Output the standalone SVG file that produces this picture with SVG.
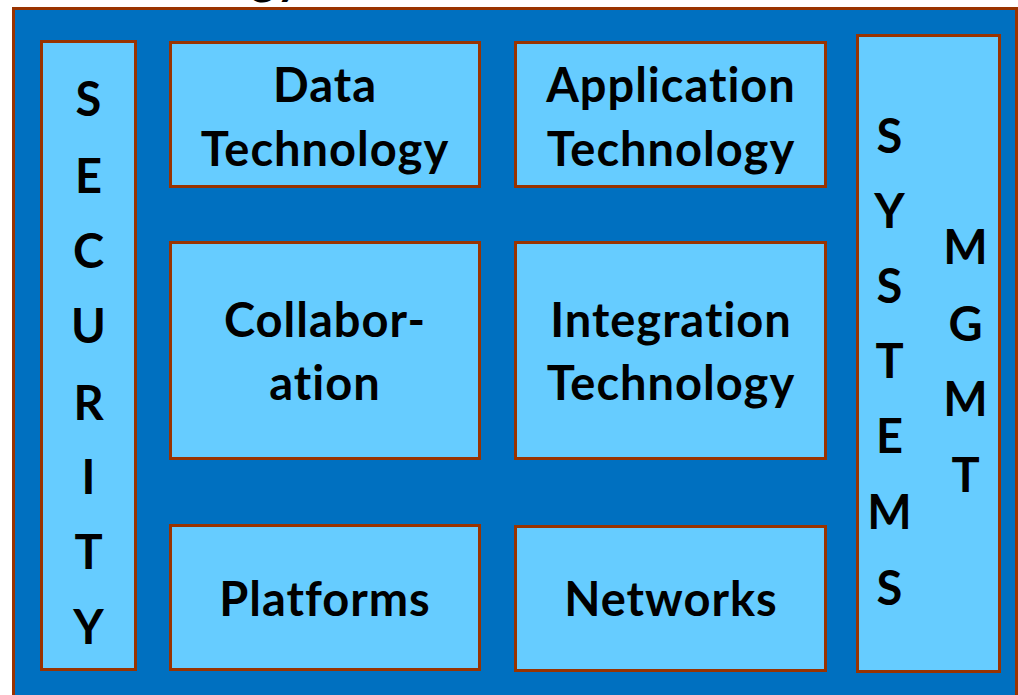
<svg xmlns="http://www.w3.org/2000/svg" width="1018" height="695" viewBox="0 0 1018 695">
<style>
.bg{fill:#0070C0;stroke:#993300;stroke-width:3}
.box{fill:#66CCFF;stroke:#993300;stroke-width:3}
.t{font-family:Lato,"Open Sans","Liberation Sans",sans-serif;font-weight:bold;font-size:47px;letter-spacing:1px;font-variant-ligatures:none;fill:#000;text-anchor:middle}
</style>
<rect width="1018" height="695" fill="#fff"/>
<text class="t" x="302" y="-6" style="text-anchor:end">Technology</text>
<rect class="bg" x="13.5" y="8.5" width="1003" height="700"/>
<g id="security">
<rect class="box" x="41.5" y="41.5" width="94" height="628"/>
<text class="t"><tspan x="89" y="116">S</tspan><tspan x="89" y="193">E</tspan><tspan x="89" y="268">C</tspan><tspan x="89" y="343">U</tspan><tspan x="89" y="420">R</tspan><tspan x="89" y="494">I</tspan><tspan x="89" y="569">T</tspan><tspan x="89" y="644">Y</tspan></text>
</g>
<g id="data-technology">
<rect class="box" x="170.5" y="42.5" width="309" height="144"/>
<text class="t"><tspan x="325" y="102">Data</tspan><tspan x="325" y="166">Technology</tspan></text>
</g>
<g id="application-technology">
<rect class="box" x="515.5" y="42.5" width="310" height="144"/>
<text class="t"><tspan x="671" y="102">Application</tspan><tspan x="671" y="166">Technology</tspan></text>
</g>
<g id="collaboration">
<rect class="box" x="170.5" y="242.5" width="309" height="216"/>
<text class="t"><tspan x="325" y="337">Collabor-</tspan><tspan x="325" y="400">ation</tspan></text>
</g>
<g id="integration-technology">
<rect class="box" x="515.5" y="242.5" width="310" height="216"/>
<text class="t"><tspan x="671" y="337">Integration</tspan><tspan x="671" y="400">Technology</tspan></text>
</g>
<g id="platforms">
<rect class="box" x="170.5" y="525.5" width="309" height="144"/>
<text class="t" x="325" y="616">Platforms</text>
</g>
<g id="networks">
<rect class="box" x="515.5" y="526.5" width="310" height="144"/>
<text class="t" x="671" y="616">Networks</text>
</g>
<g id="systems-mgmt">
<rect class="box" x="857.5" y="35.5" width="142" height="636"/>
<text class="t"><tspan x="890" y="153">S</tspan><tspan x="890" y="228">Y</tspan><tspan x="890" y="303">S</tspan><tspan x="890" y="378">T</tspan><tspan x="890" y="453">E</tspan><tspan x="890" y="529">M</tspan><tspan x="890" y="605">S</tspan></text>
<text class="t"><tspan x="966" y="264">M</tspan><tspan x="966" y="341">G</tspan><tspan x="966" y="416">M</tspan><tspan x="966" y="492">T</tspan></text>
</g>
<g id="connectors"/>
</svg>
